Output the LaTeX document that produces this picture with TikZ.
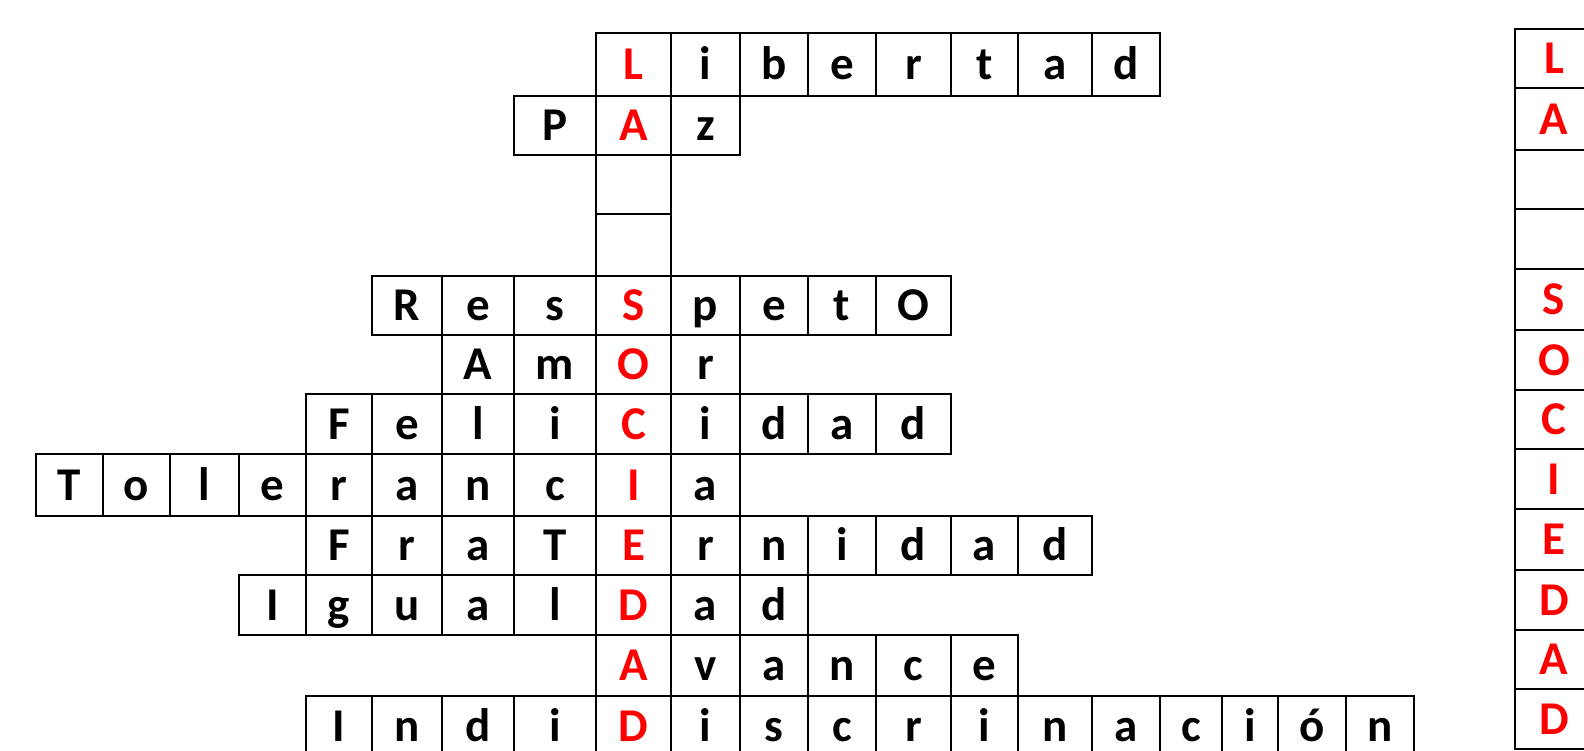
\documentclass[tikz,border=0pt]{standalone}
\usepackage{fontspec}
\newfontfamily\cwfont{Carlito}
\begin{document}
\begin{tikzpicture}[x=1pt,y=-1pt,
  cellbox/.style={draw=black,line width=1.4pt,inner sep=0pt,outer sep=0pt,
    text height=30.3pt,text depth=0pt,font=\cwfont\bfseries\fontsize{47}{47}\selectfont},
  key/.style={text=red},
  plain/.style={text=black}]
\useasboundingbox (0,0) rectangle (1584,750);
\def\XX{{36,103,170,239,306,372,442,514,596,671,740,808,876,951,1018,1092,1160,1222,1278,1346,1414}}
\def\YY{{33,96,155,214,276,335,394,454,516,575,635,696,756}}
\def\YR{{29,88,150,209,269,330,390,449,509,570,630,689,749}}
\newcommand\cell[5]{%
  \pgfmathsetmacro\xa{\XX[#2]}\pgfmathsetmacro\xb{\XX[#2+1]}%
  \pgfmathsetmacro\ya{\YY[#3]}\pgfmathsetmacro\yb{\YY[#3+1]}%
  \pgfmathsetmacro\ww{\xb-\xa}\pgfmathsetmacro\hh{\yb-\ya}%
  \pgfmathsetmacro\cx{(\xa+\xb)/2}\pgfmathsetmacro\cy{(\ya+\yb)/2}%
  \node[cellbox,#5,minimum width=\ww pt,minimum height=\hh pt] (#1) at (\cx,\cy) {#4};}
\newcommand\word[3]{%
  \foreach[count=\i from 0] \l in {#3}{%
    \pgfmathtruncatemacro\cc{#2+\i}%
    \ifnum\cc=8 \def\st{key}\else\def\st{plain}\fi
    \cell{r#1c\cc}{\cc}{#1}{\l}{\st}}}
\newcommand\rcell[3]{%
  \pgfmathsetmacro\ya{\YR[#2]}\pgfmathsetmacro\yb{\YR[#2+1]}%
  \pgfmathsetmacro\hh{\yb-\ya}\pgfmathsetmacro\cy{(\ya+\yb)/2}%
  \node[cellbox,key,minimum width=78pt,minimum height=\hh pt] (#1) at (1554,\cy) {#3};}
% crossword
\word{0}{8}{L,i,b,e,r,t,a,d}
\word{1}{7}{P,A,z}
\cell{r2c8}{8}{2}{}{key}
\cell{r3c8}{8}{3}{}{key}
\word{4}{5}{R,e,s,S,p,e,t,O}
\word{5}{6}{A,m,O,r}
\word{6}{4}{F,e,l,i,C,i,d,a,d}
\word{7}{0}{T,o,l,e,r,a,n,c,I,a}
\word{8}{4}{F,r,a,T,E,r,n,i,d,a,d}
\word{9}{3}{I,g,u,a,l,D,a,d}
\word{10}{8}{A,v,a,n,c,e}
\word{11}{4}{I,n,d,i,D,i,s,c,r,i,n,a,c,i,ó,n}
% answer column
\rcell{k0}{0}{L}
\rcell{k1}{1}{A}
\rcell{k2}{2}{}
\rcell{k3}{3}{}
\rcell{k4}{4}{S}
\rcell{k5}{5}{O}
\rcell{k6}{6}{C}
\rcell{k7}{7}{I}
\rcell{k8}{8}{E}
\rcell{k9}{9}{D}
\rcell{k10}{10}{A}
\rcell{k11}{11}{D}
\end{tikzpicture}
\end{document}
